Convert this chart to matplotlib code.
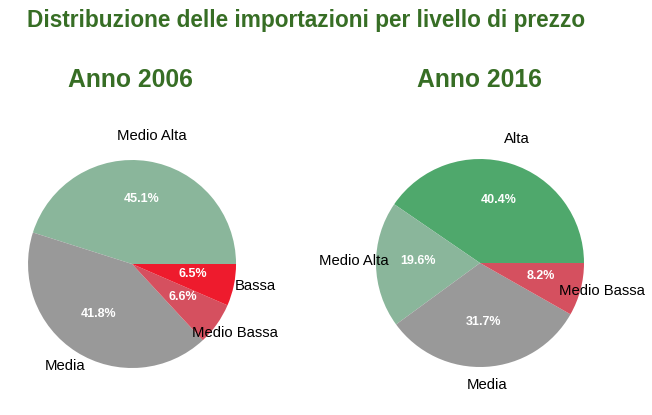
import matplotlib.pyplot as plt

# Data
labels_2006 = ["Medio Alta", "Media", "Medio Bassa", "Bassa"]
values_2006 = [45.1, 41.8, 6.6, 6.5]
colors_2006 = ["#8ab69b", "#999999", "#d5505f", "#ee1b2d"]

labels_2016 = ["Alta", "Medio Alta", "Media", "Medio Bassa"]
values_2016 = [40.4, 19.6, 31.7, 8.2]
colors_2016 = ["#4fa86c", "#8ab69b", "#999999", "#d5505f"]

title_color = "#376e25"
plt.rcParams['font.family'] = ['Liberation Sans', 'DejaVu Sans']

fig = plt.figure(figsize=(6.52, 4.15), dpi=100)


def draw_pie(rect, values, labels, colors):
    ax = fig.add_axes(rect)
    wedges, texts, autotexts = ax.pie(
        values, labels=labels, colors=colors, startangle=0,
        autopct='%1.1f%%', pctdistance=0.6, labeldistance=1.21,
        textprops={'fontsize': 10.7})
    for t in texts:
        t.set_ha('center')
        t.set_va('baseline')
    for t in autotexts:
        t.set_color('white')
        t.set_fontweight('bold')
        t.set_fontsize(9)
        t.set_va('baseline')
    return ax


# pie radius ~104 px, axes span +/-1.25 radii
draw_pie([0.0031, 0.0506, 0.3988, 0.6265], values_2006, labels_2006, colors_2006)
draw_pie([0.5368, 0.0530, 0.3988, 0.6265], values_2016, labels_2016, colors_2016)

fig.text(0.041, 0.950, "Distribuzione delle importazioni per livello di prezzo",
         fontsize=16.3, fontweight='bold', color=title_color, va='center', ha='left')
fig.text(0.200, 0.807, "Anno 2006", fontsize=17.8, fontweight='bold',
         color=title_color, ha='center', va='center')
fig.text(0.736, 0.807, "Anno 2016", fontsize=17.8, fontweight='bold',
         color=title_color, ha='center', va='center')

fig.savefig("out.png", dpi=100)
